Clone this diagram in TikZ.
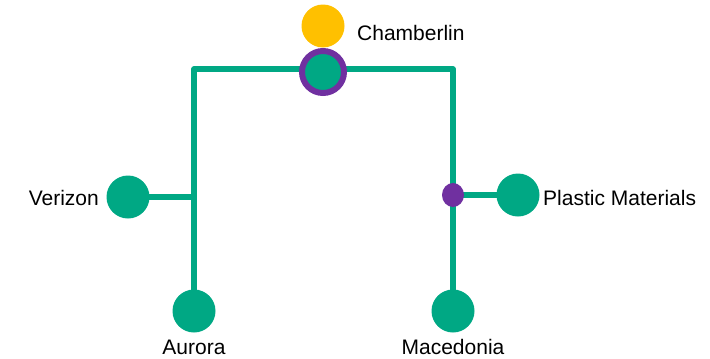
\documentclass[tikz,border=0pt]{standalone}
\usepackage{fontspec}
\setmainfont{Liberation Sans}
\usetikzlibrary{shapes.geometric,backgrounds}
\definecolor{grn}{RGB}{0,168,132}
\definecolor{prp}{RGB}{112,48,160}
\definecolor{ylw}{RGB}{255,192,0}
\begin{document}
\begin{tikzpicture}[x=1pt,y=-1pt,
  dot/.style={circle,fill=grn,inner sep=0pt,minimum size=43pt},
  lbl/.style={inner sep=0pt,font=\fontsize{21}{24}\selectfont},
  conn/.style={draw=grn,line width=5.5pt,line join=round}]
\useasboundingbox (0,0) rectangle (710,359);
\node[circle,fill=ylw,inner sep=0pt,minimum size=43pt] (top) at (323,26) {};
\node[circle,fill=grn,draw=prp,line width=6pt,minimum size=42pt,inner sep=0pt] (cham) at (323,72) {};
\node[dot] (ver) at (128,197) {};
\node[dot] (aur) at (194,311) {};
\node[dot] (mac) at (453,311) {};
\node[dot] (pla) at (518,195) {};
\node[ellipse,fill=prp,inner sep=0pt,minimum width=22pt,minimum height=24pt] (pj) at (453,195) {};
\coordinate (tl) at (194,69);
\coordinate (tr) at (453,69);
\begin{scope}[on background layer]
  \draw[conn] (aur.center) -- (tl) -- (tr) -- (mac.center);
  \draw[conn] (ver.center) -- (ver.center -| tl);
  \draw[conn] (pj.center) -- (pla.center);
\end{scope}
\node[lbl,anchor=base west] (chamL) at (357,40) {Chamberlin};
\node[lbl,anchor=base east] (verL) at (99,205) {Verizon};
\node[lbl,anchor=base west] (plaL) at (543,205) {Plastic Materials};
\node[lbl,anchor=base] (aurL) at (194,354) {Aurora};
\node[lbl,anchor=base] (macL) at (453,354) {Macedonia};
\end{tikzpicture}
\end{document}
